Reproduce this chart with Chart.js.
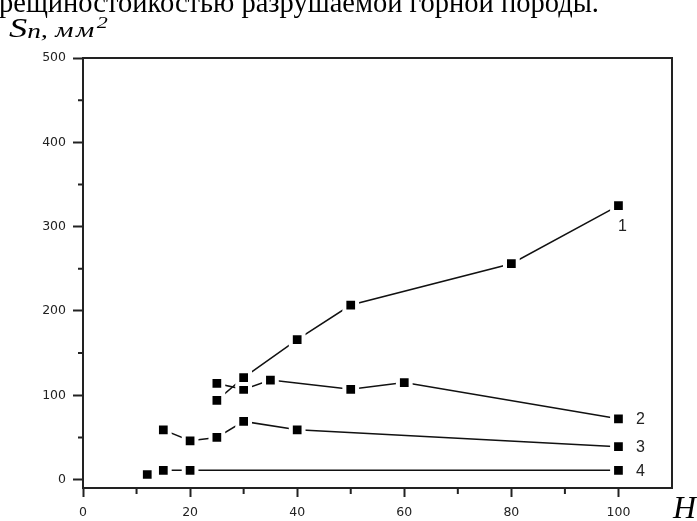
<!DOCTYPE html>
<html>
<head>
<meta charset="utf-8">
<script src="https://cdn.jsdelivr.net/npm/chart.js@4/dist/chart.umd.min.js"></script>
<style>
  body { margin: 0; background: #fff; overflow: hidden; }
  #wrap { position: relative; width: 697px; height: 521px; overflow: hidden; }
  #chart { position: absolute; left: 0; top: 0; }
  .txt { position: absolute; white-space: nowrap; font-family: 'Liberation Serif', 'Times New Roman', serif; color: #000; }
</style>
</head>
<body>
<div id="wrap">
  <canvas id="chart" width="697" height="521"></canvas>
  <div class="txt" style="left:-1px;top:-11px;font-size:28.5px;line-height:28.5px;">рещиностойкостью разрушаемой горной породы.</div>
  <div class="txt" style="left:9px;top:14px;font-size:28px;line-height:28px;font-style:italic;transform:scaleX(1.3);transform-origin:0 0;">S<span style="font-size:21px;position:relative;top:1px;">n</span><span style="font-size:22px;">, <span style="letter-spacing:2px;">мм</span></span><span style="font-size:17px;position:relative;top:-9px;">2</span></div>
  <div class="txt" style="left:673px;top:491px;font-size:32px;line-height:32px;font-style:italic;">H</div>
</div>
<script>
// tick values
const xTicks = [0, 20, 40, 60, 80, 100];
const yTicks = [0, 100, 200, 300, 400, 500];

// curve names (printed beside the last point)
const names = ['1', '2', '3', '4'];

// H values and S_n values
const h1 = [25, 30, 40, 50, 80, 100];
const s1 = [94, 121, 166, 207, 256, 325];
const h2 = [25, 30, 35, 50, 60, 100];
const s2 = [114, 107, 118, 107, 115, 72];
const h3 = [15, 20, 25, 30, 40, 100];
const s3 = [59, 46, 50, 69, 59, 39];
const h4 = [12, 15, 20, 100];
const s4 = [6, 11, 11, 11];

const INK = '#222';
const tickFont = { family: "'DejaVu Sans', sans-serif", size: 12.5 };

function pts(xs, ys) {
    return xs.map((x, i) => ({ x, y: ys[i] }));
}

function series(name, xs, ys) {
    return {
        label: name,
        data: pts(xs, ys),
        borderColor: '#111',
        borderWidth: 1.5,
        tension: 0,
        pointStyle: 'rect',
        pointRadius: 9,
        pointBackgroundColor: '#000',
        pointBorderColor: '#fff',
        pointBorderWidth: 4,
    };
}

// box lines on top/right, short minor ticks, curve numbers
const extras = {
    id: 'extras',
    afterDraw(chart) {
        const ctx = chart.ctx;
        const a = chart.chartArea;
        const sx = chart.scales.x, sy = chart.scales.y;
        ctx.save();
        ctx.strokeStyle = INK;
        ctx.lineWidth = 2;
        ctx.beginPath();
        ctx.moveTo(a.left, a.top);
        ctx.lineTo(a.right, a.top);
        ctx.lineTo(a.right, a.bottom);
        ctx.stroke();

        ctx.beginPath();
        for (let i = 0; i < xTicks.length - 1; i++) {
            const px = sx.getPixelForValue((xTicks[i] + xTicks[i + 1]) / 2);
            ctx.moveTo(px, a.bottom);
            ctx.lineTo(px, a.bottom + 6);
        }
        for (let i = 0; i < yTicks.length - 1; i++) {
            const py = sy.getPixelForValue((yTicks[i] + yTicks[i + 1]) / 2);
            ctx.moveTo(a.left, py);
            ctx.lineTo(a.left - 5, py);
        }
        ctx.stroke();

        ctx.fillStyle = INK;
        ctx.font = "16px 'Liberation Sans', Arial, sans-serif";
        ctx.textAlign = 'center';
        ctx.textBaseline = 'middle';
        chart.data.datasets.forEach((ds, i) => {
            const meta = chart.getDatasetMeta(i);
            const p = meta.data[meta.data.length - 1];
            if (i === 0) ctx.fillText(ds.label, p.x + 4, p.y + 21);
            else ctx.fillText(ds.label, p.x + 22, p.y + 1);
        });
        ctx.restore();
    }
};

new Chart(document.getElementById('chart'), {
    type: 'line',
    data: {
        datasets: [
            series(names[0], h1, s1),
            series(names[1], h2, s2),
            series(names[2], h3, s3),
            series(names[3], h4, s4),
        ]
    },
    options: {
        responsive: false,
        animation: false,
        layout: { padding: { top: 58, right: 25, left: 0, bottom: 0 } },
        plugins: { legend: { display: false }, tooltip: { enabled: false } },
        scales: {
            x: {
                type: 'linear',
                min: 0,
                max: 110,
                afterBuildTicks: s => { s.ticks = xTicks.map(v => ({ value: v })); },
                afterFit: s => { s.height = 33; },
                grid: { drawOnChartArea: false, drawTicks: true, tickLength: 9, tickWidth: 2, tickColor: INK },
                border: { display: true, color: INK, width: 2 },
                ticks: { padding: 8, font: tickFont, color: '#222', maxRotation: 0 }
            },
            y: {
                min: -10,
                max: 500,
                afterBuildTicks: s => { s.ticks = yTicks.map(v => ({ value: v })); },
                afterFit: s => { s.width = 83; },
                grid: { drawOnChartArea: false, drawTicks: true, tickLength: 10, tickWidth: 2, tickColor: INK },
                border: { display: true, color: INK, width: 2 },
                ticks: { padding: 7, font: tickFont, color: '#222' }
            }
        }
    },
    plugins: [extras]
});
</script>
</body>
</html>
